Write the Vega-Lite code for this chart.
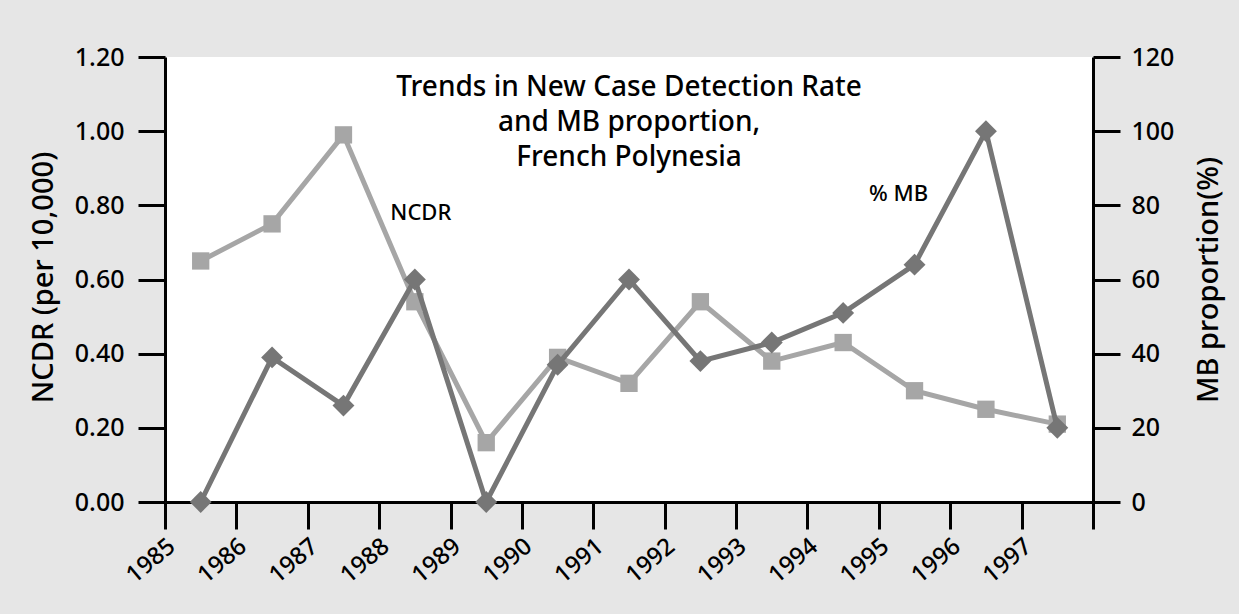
{
  "$schema": "https://vega.github.io/schema/vega-lite/v6.json",
  "width": 928,
  "height": 445,
  "autosize": {"type": "none"},
  "padding": {"left": 165, "top": 57, "right": 146, "bottom": 112},
  "background": "#e6e6e6",
  "title": {
    "text": ["Trends in New Case Detection Rate", "and MB proportion,", "French Polynesia"],
    "anchor": "middle",
    "frame": "group",
    "font": "Noto Sans",
    "fontSize": 28,
    "fontWeight": 500,
    "lineHeight": 35,
    "color": "#000000",
    "offset": 0,
    "dy": 127
  },
  "config": {
    "view": {"fill": "#ffffff", "stroke": null},
    "axis": {
      "grid": false,
      "domainColor": "#000000",
      "domainWidth": 3,
      "tickColor": "#000000",
      "tickWidth": 3,
      "tickSize": 27,
      "labelFont": "Noto Sans",
      "labelFontSize": 25,
      "labelFontWeight": 500,
      "labelColor": "#000000",
      "titleFont": "Noto Sans",
      "titleFontSize": 29,
      "titleFontWeight": 500,
      "titleColor": "#000000"
    }
  },
  "data": {
    "values": [
      {"year": 1985, "ncdr": 0.65, "mb": 0},
      {"year": 1986, "ncdr": 0.75, "mb": 39},
      {"year": 1987, "ncdr": 0.99, "mb": 26},
      {"year": 1988, "ncdr": 0.54, "mb": 60},
      {"year": 1989, "ncdr": 0.16, "mb": 0},
      {"year": 1990, "ncdr": 0.39, "mb": 37},
      {"year": 1991, "ncdr": 0.32, "mb": 60},
      {"year": 1992, "ncdr": 0.54, "mb": 38},
      {"year": 1993, "ncdr": 0.38, "mb": 43},
      {"year": 1994, "ncdr": 0.43, "mb": 51},
      {"year": 1995, "ncdr": 0.30, "mb": 64},
      {"year": 1996, "ncdr": 0.25, "mb": 100},
      {"year": 1997, "ncdr": 0.21, "mb": 20}
    ]
  },
  "encoding": {
    "x": {
      "field": "year",
      "type": "ordinal",
      "scale": {"type": "band", "paddingInner": 0, "paddingOuter": 0},
      "axis": {
        "title": null,
        "bandPosition": 0,
        "tickBand": "extent",
        "labelAngle": -40,
        "labelAlign": "right",
        "labelBaseline": "middle",
        "labelFontSize": 24,
        "labelOffset": -29,
        "labelPadding": 14
      }
    }
  },
  "layer": [
    {
      "encoding": {
        "y": {
          "field": "ncdr",
          "type": "quantitative",
          "scale": {"domain": [0, 1.2], "nice": false, "zero": true},
          "axis": {
            "orient": "left",
            "title": "NCDR (per 10,000)",
            "values": [0, 0.2, 0.4, 0.6, 0.8, 1.0, 1.2],
            "format": ".2f",
            "labelPadding": 14,
            "titleAngle": -90,
            "titleX": -107,
            "titleY": 220,
            "titleAlign": "center",
            "titleBaseline": "bottom"
          }
        }
      },
      "layer": [
        {"mark": {"type": "line", "color": "#a6a6a6", "strokeWidth": 5}},
        {"mark": {"type": "point", "shape": "square", "filled": true, "opacity": 1, "color": "#a6a6a6", "size": 300}},
        {
          "data": {"values": [{"year": 1988, "ncdr": 0.78, "label": "NCDR"}]},
          "mark": {"type": "text", "font": "Noto Sans", "fontSize": 22, "fontWeight": 500, "color": "#000000", "dx": 6},
          "encoding": {"text": {"field": "label"}}
        }
      ]
    },
    {
      "encoding": {
        "y": {
          "field": "mb",
          "type": "quantitative",
          "scale": {"domain": [0, 120], "nice": false, "zero": true},
          "axis": {
            "orient": "right",
            "title": "MB proportion(%)",
            "titleAngle": -90,
            "values": [0, 20, 40, 60, 80, 100, 120],
            "labelPadding": 11,
            "titlePadding": 50
          }
        }
      },
      "layer": [
        {"mark": {"type": "line", "color": "#767676", "strokeWidth": 5}},
        {"mark": {"type": "point", "shape": "diamond", "filled": true, "opacity": 1, "color": "#767676", "size": 480}},
        {
          "data": {"values": [{"year": 1995, "mb": 83, "label": "% MB"}]},
          "mark": {"type": "text", "font": "Noto Sans", "fontSize": 22, "fontWeight": 500, "color": "#000000", "dx": -16},
          "encoding": {"text": {"field": "label"}}
        }
      ]
    }
  ],
  "resolve": {"scale": {"y": "independent"}}
}
